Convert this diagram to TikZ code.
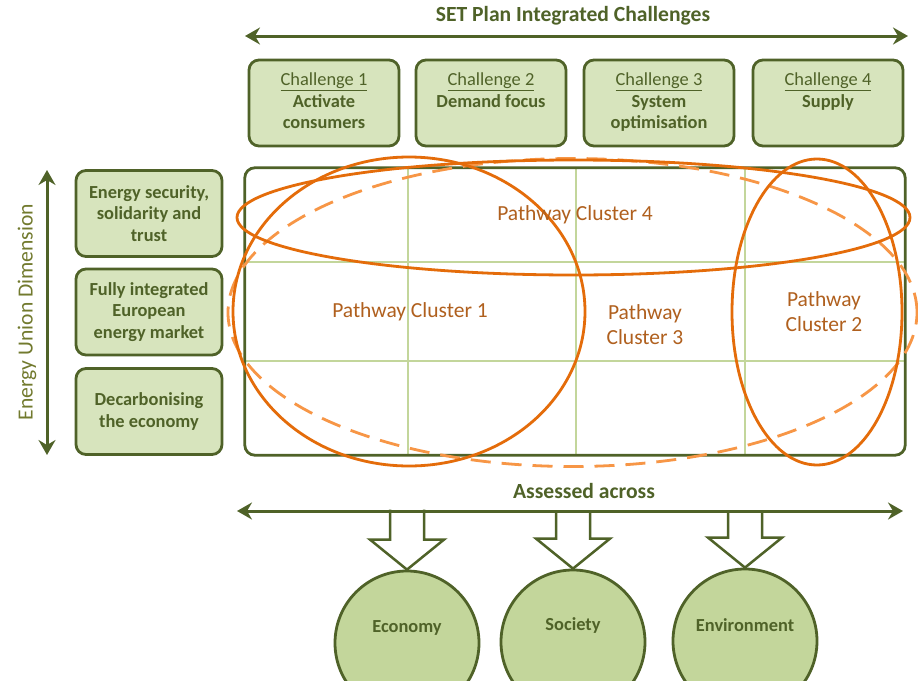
\documentclass[tikz,border=0pt]{standalone}
\usepackage{fontspec}
\setmainfont{Carlito}
\usetikzlibrary{shapes.geometric,arrows.meta,calc}
\definecolor{dkgreen}{HTML}{4F6228}
\definecolor{boxfill}{HTML}{D7E4BD}
\definecolor{circfill}{HTML}{C3D69B}
\definecolor{gridgreen}{HTML}{C3D69B}
\definecolor{orng}{HTML}{E46C0A}
\definecolor{ltorng}{HTML}{F79646}
\definecolor{clabel}{HTML}{B0601E}
\definecolor{axislbl}{HTML}{727A2E}
\newcommand{\boxfnt}{\fontsize{18.4}{21.5}\selectfont}
\newcommand{\bigfnt}{\fontsize{21.6}{25}\selectfont}
\newcommand{\clfnt}{\fontsize{21.5}{25}\selectfont}
\begin{document}
\begin{tikzpicture}[x=1pt,y=-1pt,
  chbox/.style={draw=dkgreen, line width=2.8pt, fill=boxfill, rounded corners=10pt,
    minimum width=150pt, minimum height=86pt, inner sep=0pt},
  chtext/.style={anchor=north, align=center, text=dkgreen, inner sep=0pt, font=\boxfnt},
  lbox/.style={draw=dkgreen, line width=2.8pt, fill=boxfill, rounded corners=10pt,
    minimum width=146pt, minimum height=86pt, inner sep=0pt, align=center,
    text=dkgreen, font=\boxfnt\bfseries},
  ttl/.style={text=dkgreen, font=\bigfnt\bfseries, inner sep=0pt},
  dblarr/.style={draw=dkgreen, line width=3pt,
    {Stealth[length=15pt,width=17pt,inset=5pt]}-{Stealth[length=15pt,width=17pt,inset=5pt]}},
  gridline/.style={draw=gridgreen, line width=2pt},
  clus/.style={ellipse, draw=orng, line width=2.8pt, inner sep=0pt},
  dclus/.style={ellipse, draw=ltorng, line width=2.8pt, inner sep=0pt, dash pattern=on 20pt off 11pt},
  cllbl/.style={text=clabel, font=\clfnt, align=center, inner sep=0pt},
  dimcirc/.style={circle, draw=dkgreen, line width=2.8pt, fill=circfill, minimum size=144pt, inner sep=0pt},
  circlbl/.style={text=dkgreen, font=\boxfnt\bfseries, inner sep=0pt},
  blockarr/.style={draw=dkgreen, line width=2.5pt, line join=miter}
]
\useasboundingbox (0,0) rectangle (918,680);
\clip (0,0) rectangle (918,680);
\fill[white] (0,0) rectangle (918,680);

% title and top arrow
\node[ttl] (title) at (573,16) {SET Plan Integrated Challenges};
\coordinate (tl) at (245,36);
\coordinate (tr) at (908,36);
\draw[dblarr] (tl) -- (tr);

% challenge boxes
\node[chbox] (c1) at (324,103) {};
\node[chbox] (c2) at (491,103) {};
\node[chbox] (c3) at (659,103) {};
\node[chbox] (c4) at (828,103) {};
\node[chtext] (t1) at ($(c1.north)+(0,14)$) {\underline{Challenge 1}\\\textbf{Activate}\\\textbf{consumers}};
\node[chtext] (t2) at ($(c2.north)+(0,14)$) {\underline{Challenge 2}\\\textbf{Demand focus}};
\node[chtext] (t3) at ($(c3.north)+(0,14)$) {\underline{Challenge 3}\\\textbf{System}\\\textbf{optimisation}};
\node[chtext] (t4) at ($(c4.north)+(0,14)$) {\underline{Challenge 4}\\\textbf{Supply}};

% left side
\coordinate (vt) at (47,170);
\coordinate (vb) at (47,455);
\draw[dblarr] (vt) -- (vb);
\node[text=axislbl, font=\bigfnt, rotate=90, inner sep=0pt] (dim) at (27,312) {Energy Union Dimension};
\node[lbox] (eu1) at (149,213.5) {Energy security,\\solidarity and\\trust};
\node[lbox] (eu2) at (149,312) {Fully integrated\\European\\energy market};
\node[lbox] (eu3) at (149,411.5) {Decarbonising\\the economy};

% main grid
\node[minimum width=660pt, minimum height=287pt, inner sep=0pt] (grid) at (575,311.5) {};
\foreach \f in {0.247,0.502,0.758}{
  \draw[gridline] ($(grid.north west)!\f!(grid.north east)$) -- ($(grid.south west)!\f!(grid.south east)$);
}
\foreach \f in {0.327,0.672}{
  \draw[gridline] ($(grid.north west)!\f!(grid.south west)$) -- ($(grid.north east)!\f!(grid.south east)$);
}
\draw[draw=dkgreen, line width=2.8pt, rounded corners=10pt] (grid.north west) rectangle (grid.south east);

% clusters
\node[dclus, minimum width=689pt, minimum height=308pt] (pcd) at (572.5,312.5) {};
\node[clus, minimum width=352pt, minimum height=309pt] (pc1) at (409,311.5) {};
\node[clus, minimum width=170pt, minimum height=306pt] (pc2) at (817,312) {};
\node[clus, minimum width=673pt, minimum height=115pt] (pc4) at (573.5,217.5) {};
\node[cllbl] (l4) at (575,215) {Pathway Cluster 4};
\node[cllbl] (l1) at (410,312) {Pathway Cluster 1};
\node[cllbl] (l3) at (645,324.5) {Pathway\\Cluster 3};
\node[cllbl] (l2) at (824,311.5) {Pathway\\Cluster 2};

% assessment
\node[ttl] (ass) at (584,491) {Assessed across};
\coordinate (al) at (237,511);
\coordinate (ar) at (903,511);

\node[dimcirc] (eco) at (407,643) {};
\node[dimcirc] (soc) at (573,642) {};
\node[dimcirc] (env) at (745,641) {};
\node[circlbl] (ecol) at (407,628) {Economy};
\node[circlbl] (socl) at (573,625) {Society};
\node[circlbl] (envl) at (745,625) {Environment};

\foreach \c/\h in {eco/60,soc/58,env/57}{
  \draw[blockarr] ($(\c.north)+(-17,-\h)$) -- ($(\c.north)+(-17,-30)$) -- ($(\c.north)+(-37,-30)$)
    -- (\c.north) -- ($(\c.north)+(37,-30)$) -- ($(\c.north)+(17,-30)$) -- ($(\c.north)+(17,-\h)$);
}
\draw[dblarr] (al) -- (ar);
\end{tikzpicture}
\end{document}
